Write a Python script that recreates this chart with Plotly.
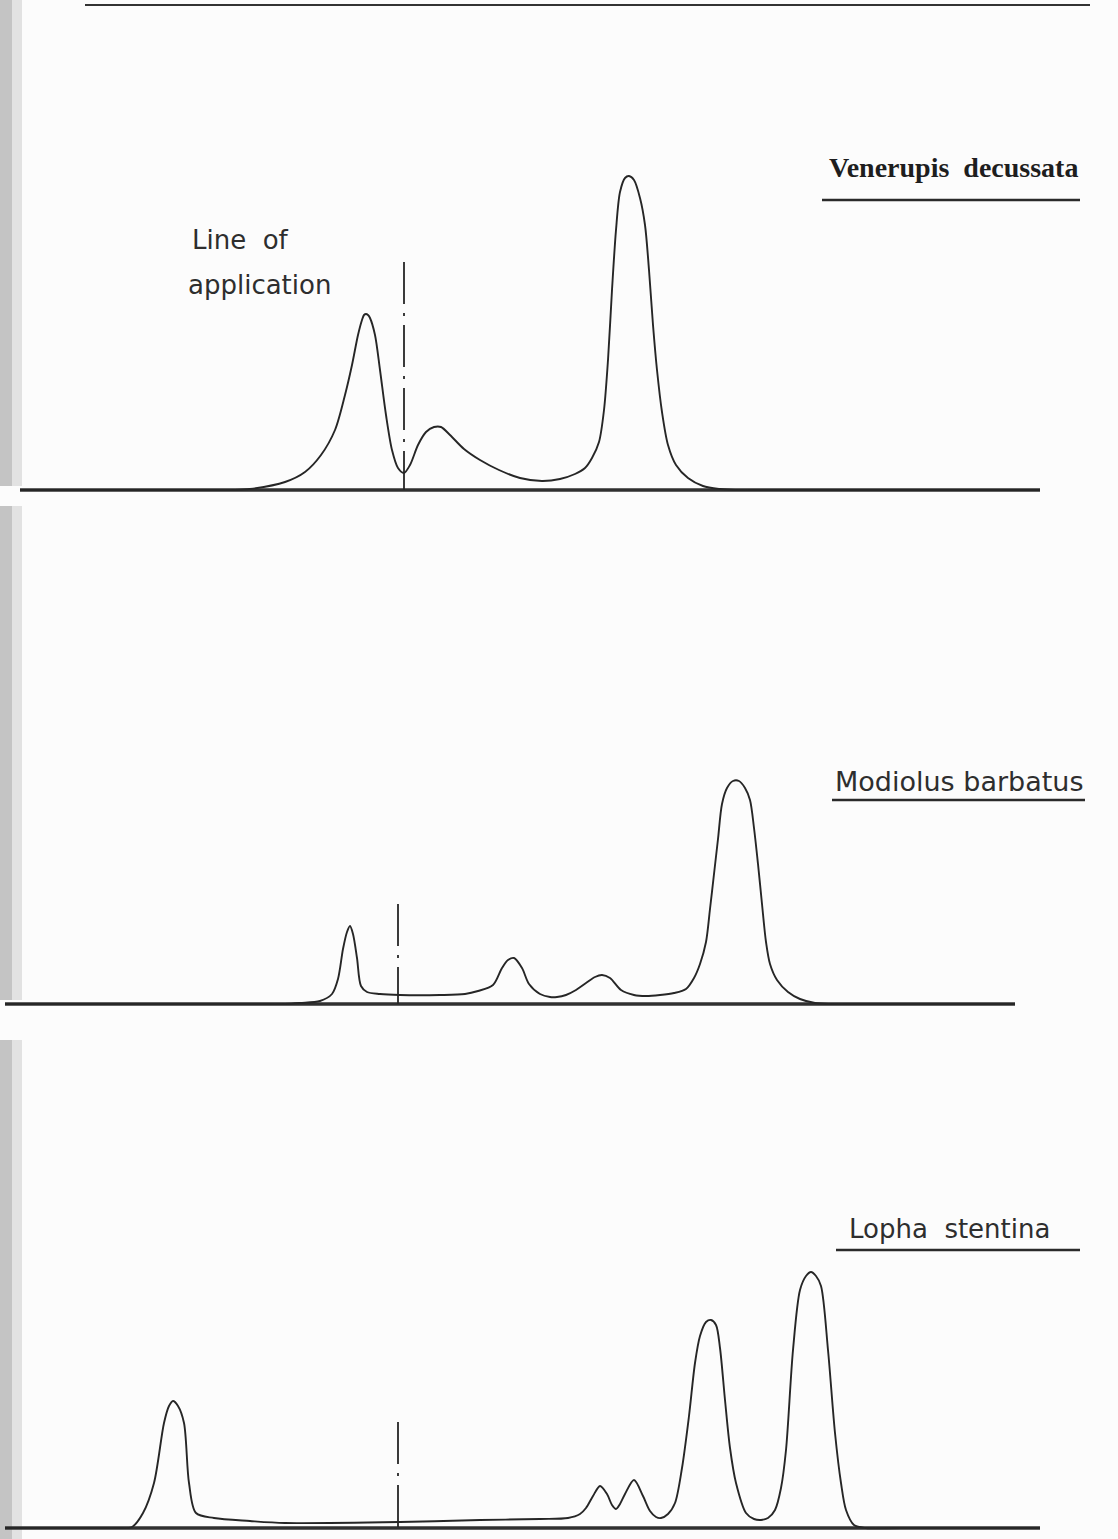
import plotly.graph_objects as go

W, H = 1118, 1539

# ---- Data (distance along strip, density height above baseline) ----
venerupis_x = [20, 200, 235, 250, 285, 305, 321, 335, 345, 352, 358, 362, 364, 366, 368, 370, 375, 380, 386, 392,
               398, 404, 410, 418, 426, 434, 441, 450, 464, 480, 499, 520, 542, 560, 575, 585, 592, 599, 604, 608,
               612, 616, 620, 625, 629, 634, 640, 645, 649, 653, 657, 662, 668, 676, 688, 703, 720, 735, 770, 1040]
venerupis_h = [0, 0, 0, 1, 8, 18, 35, 60, 95, 125, 155, 170, 175, 176, 175, 172, 155, 120, 75, 40,
               22, 17, 25, 45, 58, 63, 63, 55, 41, 30, 20, 12, 9, 11, 16, 22, 32, 48, 80, 130,
               200, 260, 298, 312, 314, 310, 292, 265, 220, 165, 120, 78, 45, 25, 12, 4, 1, 0, 0, 0]

modiolus_x = [5, 250, 285, 300, 320, 332, 338, 343, 347, 350, 353, 357, 361, 367, 380, 400, 440, 465, 478, 493,
              502, 508, 514, 522, 529, 540, 550, 557, 566, 576, 586, 595, 602, 610, 621, 634, 646, 660, 674, 686,
              694, 700, 706, 710, 714, 718, 722, 727, 733, 739, 745, 750, 754, 758, 762, 766, 770, 777, 788, 800,
              815, 830, 860, 1015]
modiolus_h = [0, 0, 0, 1, 3, 10, 25, 55, 72, 78, 70, 46, 18, 12, 10, 9, 9, 10, 13, 19,
              36, 44, 46, 36, 20, 10, 7, 7, 9, 14, 21, 27, 29, 26, 14, 9, 8, 9, 11, 15,
              26, 40, 62, 95, 130, 165, 200, 216, 223, 223, 216, 204, 176, 140, 100, 62, 40, 24, 12, 5,
              1, 0, 0, 0]

lopha_x = [5, 90, 118, 132, 143, 154, 164, 169, 173, 178, 184, 189, 196, 214, 250, 285, 400, 480, 540, 568,
           580, 586, 593, 600, 607, 612, 616, 620, 625, 634, 643, 650, 656, 661, 668, 675, 682, 689, 695, 700,
           706, 711, 716, 720, 725, 730, 736, 746, 754, 761, 768, 775, 781, 786, 793, 800, 806, 811, 816, 821,
           828, 835, 841, 846, 854, 866, 900, 1040]
lopha_h = [0, 0, 0, 1, 15, 45, 105, 122, 127, 122, 105, 45, 15, 10, 7, 5, 6, 8, 9, 10,
           14, 20, 32, 42, 34, 23, 19, 24, 34, 48, 32, 17, 11, 10, 14, 25, 60, 112, 165, 192,
           206, 208, 203, 180, 128, 80, 45, 15, 9, 8, 10, 18, 40, 78, 178, 238, 252, 256, 252, 242,
           178, 95, 45, 18, 3, 0, 0, 0]

species = ["Venerupis\u00a0\u00a0decussata", "Modiolus barbatus", "Lopha\u00a0\u00a0stentina"]
application_x = [404, 398, 398]
application_top = [228, 100, 106]
baseline_x = [[20, 1040], [5, 1015], [5, 1040]]

# ---- layout geometry (pixels) ----
panels = [  # top, baseline, bottom
    (80, 490, 510),
    (700, 1004, 1020),
    (1180, 1528, 1539),
]

INK = "#262626"
fig = go.Figure()
curves = [(venerupis_x, venerupis_h), (modiolus_x, modiolus_h), (lopha_x, lopha_h)]
for i, ((cx, ch), (top, base, bot)) in enumerate(zip(curves, panels)):
    yname = "y" if i == 0 else f"y{i+1}"
    fig.add_trace(go.Scatter(x=baseline_x[i], y=[0, 0], mode="lines", xaxis="x", yaxis=yname,
                             line=dict(color="#303030", width=3.4), hoverinfo="skip", showlegend=False))
    fig.add_trace(go.Scatter(x=[application_x[i], application_x[i]], y=[application_top[i], 0],
                             mode="lines", xaxis="x", yaxis=yname,
                             line=dict(color=INK, width=1.8, dash="42px,9px,3px,9px"),
                             hoverinfo="skip", showlegend=False))
    fig.add_trace(go.Scatter(x=cx, y=ch, mode="lines", xaxis="x", yaxis=yname,
                             line=dict(color=INK, width=1.9, shape="spline", smoothing=0.85),
                             name=species[i].replace("\u00a0", " "), showlegend=False))

layout = dict(
    width=W, height=H,
    margin=dict(l=0, r=0, t=0, b=0),
    paper_bgcolor="#fcfcfc", plot_bgcolor="rgba(0,0,0,0)",
    xaxis=dict(domain=[0, 1], range=[0, W], visible=False, fixedrange=True),
)
for i, (top, base, bot) in enumerate(panels):
    key = "yaxis" if i == 0 else f"yaxis{i+1}"
    layout[key] = dict(domain=[1 - bot / H, 1 - top / H], range=[-(bot - base), base - top],
                       visible=False, fixedrange=True, anchor="x")
fig.update_layout(**layout)

def px(x):
    return x / W

def py(y):
    return 1 - y / H

shapes = []
for y0, y1 in [(0, 486), (506, 1000), (1040, 1539)]:
    shapes.append(dict(type="rect", xref="paper", yref="paper", x0=0, x1=px(22), y0=py(y1), y1=py(y0),
                       fillcolor="#e2e2e2", line=dict(width=0), layer="below"))
    shapes.append(dict(type="rect", xref="paper", yref="paper", x0=0, x1=px(12), y0=py(y1), y1=py(y0),
                       fillcolor="#c4c4c4", line=dict(width=0), layer="below"))
shapes.append(dict(type="line", xref="paper", yref="paper", x0=px(85), x1=px(1090), y0=py(5), y1=py(5),
                   line=dict(color="#333", width=2)))
for (x0, x1, y) in [(822, 1080, 200), (832, 1085, 800), (836, 1080, 1250)]:
    shapes.append(dict(type="line", xref="paper", yref="paper", x0=px(x0), x1=px(x1), y0=py(y), y1=py(y),
                       line=dict(color="#2a2a2a", width=2.6)))
fig.update_layout(shapes=shapes)

LBL = dict(family="DejaVu Sans", size=26, color="#2e2e2e")
ann = []
ann.append(dict(text="<b>" + species[0] + "</b>", x=px(1080), y=py(167), xref="paper", yref="paper",
                xanchor="right", yanchor="middle", showarrow=False,
                font=dict(family="Liberation Serif", size=28, color="#1e1e1e")))
ann.append(dict(text=species[1], x=px(1085), y=py(781), xref="paper", yref="paper",
                xanchor="right", yanchor="middle", showarrow=False,
                font=dict(family="DejaVu Sans", size=27, color="#2e2e2e")))
ann.append(dict(text=species[2], x=px(1052), y=py(1229), xref="paper", yref="paper",
                xanchor="right", yanchor="middle", showarrow=False, font=LBL))
ann.append(dict(text="Line\u00a0\u00a0of", x=px(190), y=py(240), xref="paper", yref="paper",
                xanchor="left", yanchor="middle", showarrow=False, font=LBL))
ann.append(dict(text="application", x=px(186), y=py(285), xref="paper", yref="paper",
                xanchor="left", yanchor="middle", showarrow=False, font=LBL))
fig.update_layout(annotations=ann)

fig.write_html("out.html", config={"displayModeBar": False},
               post_script="document.body.style.margin='0px';")
